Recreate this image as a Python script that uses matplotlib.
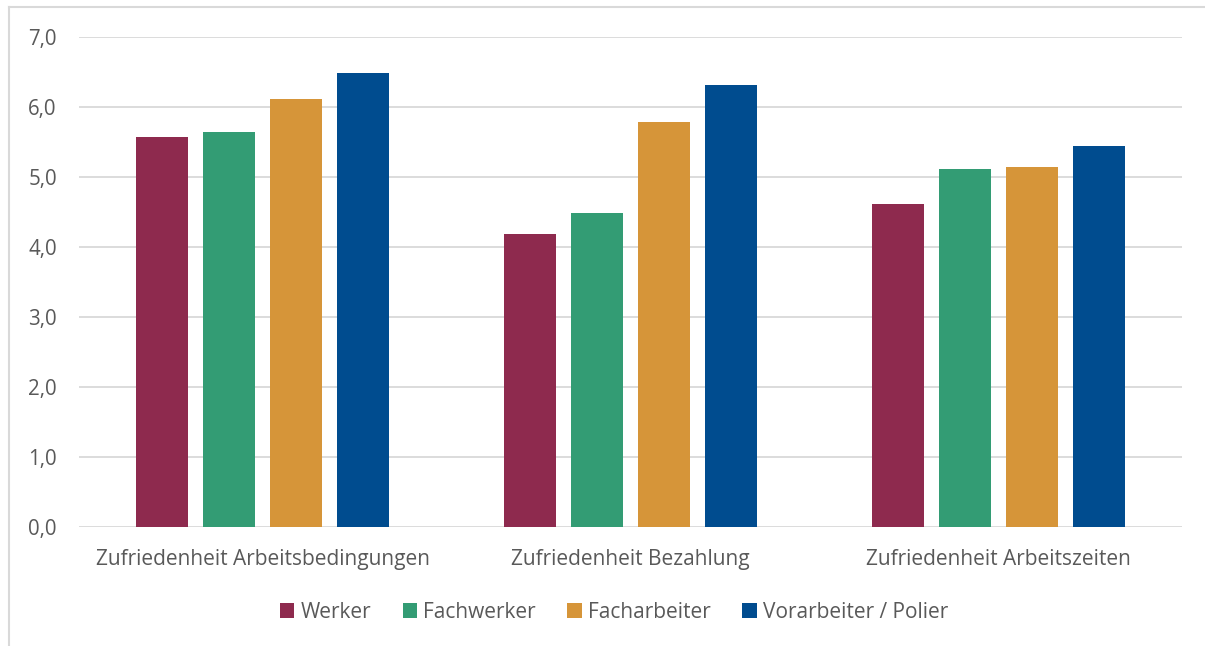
import matplotlib
matplotlib.use("Agg")
import matplotlib.pyplot as plt
import numpy as np
from matplotlib.lines import Line2D

categories = ["Zufriedenheit Arbeitsbedingungen", "Zufriedenheit Bezahlung", "Zufriedenheit Arbeitszeiten"]
series_names = ["Werker", "Fachwerker", "Facharbeiter", "Vorarbeiter / Polier"]
werker = [5.57, 4.18, 4.61]
fachwerker = [5.65, 4.48, 5.12]
facharbeiter = [6.11, 5.78, 5.14]
vorarbeiter = [6.48, 6.31, 5.44]
colors = ["#8E2A4E", "#339C74", "#D69539", "#004C8F"]
yticks = [0, 1, 2, 3, 4, 5, 6, 7]

plt.rcParams['font.family'] = ['Open Sans', 'DejaVu Sans']
W, H = 1205, 646
fig = plt.figure(figsize=(W/100, H/100), dpi=100)
ax = fig.add_axes([79/W, 1-527/H, (1182-79)/W, (527-37)/H])

x = np.arange(len(categories))
pitch = 0.182
width = 0.1414
data = [werker, fachwerker, facharbeiter, vorarbeiter]
for i, (vals, name, c) in enumerate(zip(data, series_names, colors)):
    ax.bar(x + (i - 1.5) * pitch, vals, width, color=c, label=name, zorder=3)

ax.set_xlim(-0.5, 2.5)
ax.set_ylim(0, 7)
ax.set_yticks(yticks)
ax.set_yticklabels([f"{v:.1f}".replace(".", ",") for v in yticks], color="#595959", fontsize=14.8)
ax.set_xticks(x)
ax.set_xticklabels(categories, color="#595959", fontsize=15)
ax.tick_params(axis='both', length=0)
ax.tick_params(axis='y', pad=16)
ax.tick_params(axis='x', pad=16)
ax.grid(axis='y', color="#D9D9D9", linewidth=1.3, zorder=0)
for s in ax.spines.values():
    s.set_visible(False)

leg = fig.legend(loc='center', bbox_to_anchor=(614/W, 1-612/H), ncol=4, frameon=False,
                 fontsize=15, handlelength=0.7, handleheight=0.7, handletextpad=0.3,
                 columnspacing=1.5)
for t in leg.get_texts():
    t.set_color("#595959")

fig.add_artist(Line2D([9/W, 9/W], [0, 1-7/H], transform=fig.transFigure, color="#D9D9D9", linewidth=1.5))
fig.add_artist(Line2D([9/W, 1], [1-7/H, 1-7/H], transform=fig.transFigure, color="#D9D9D9", linewidth=1.5))

fig.savefig("out.png", dpi=100, facecolor="white")
